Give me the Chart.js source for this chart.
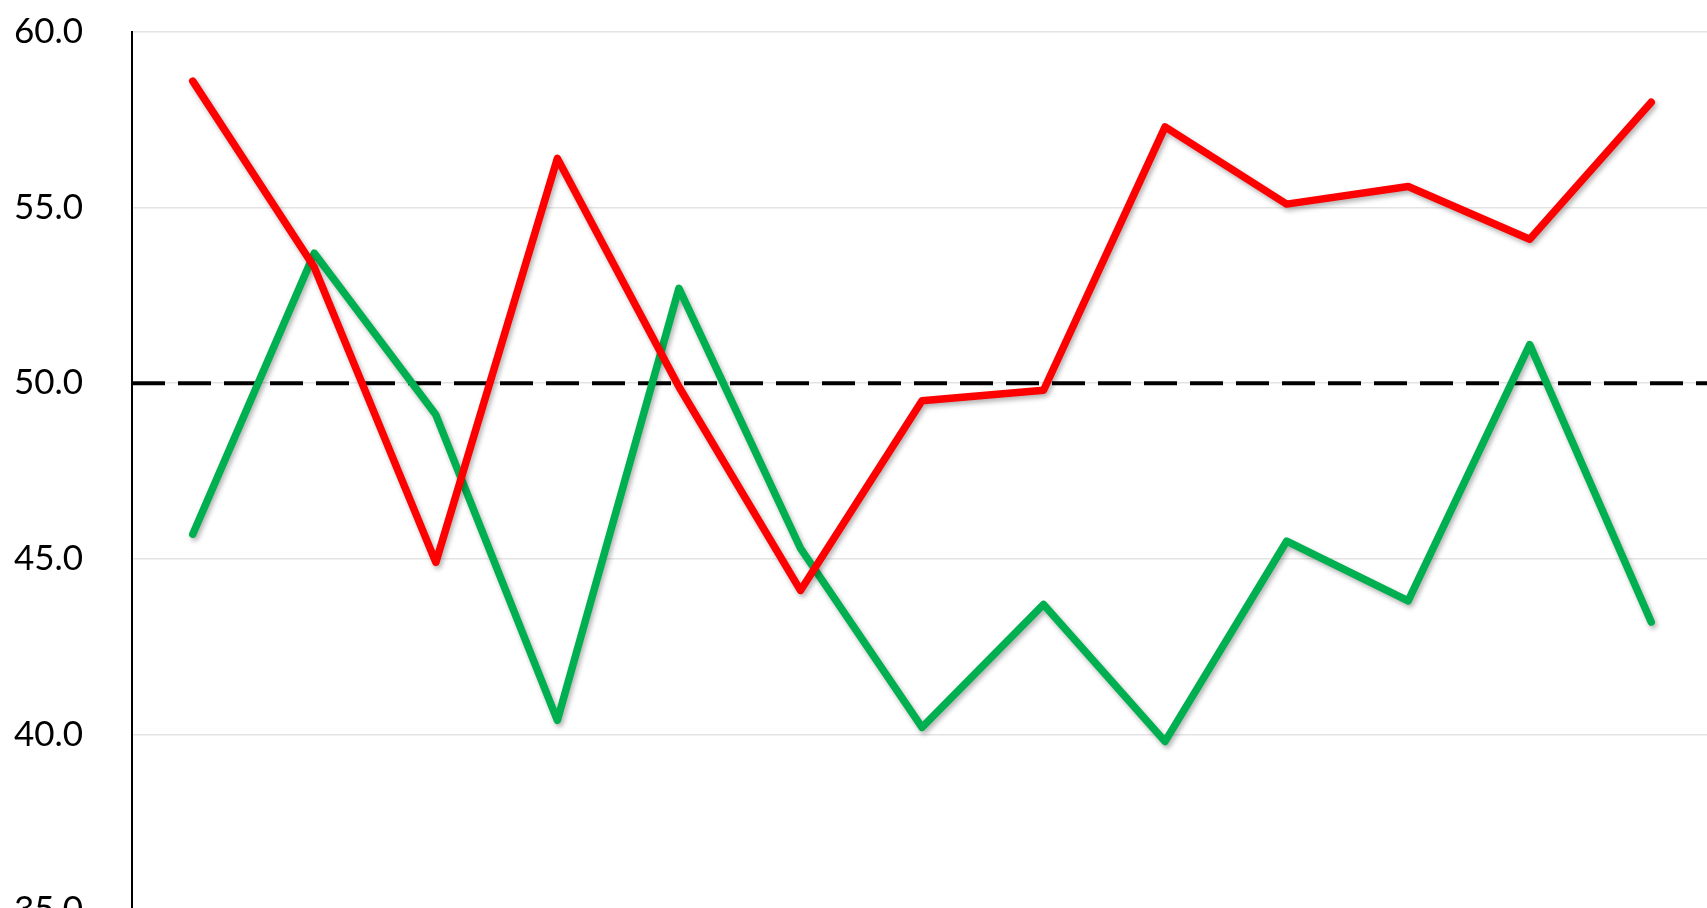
<!DOCTYPE html>
<html>
<head>
<meta charset="utf-8">
<script src="https://cdn.jsdelivr.net/npm/chart.js@4"></script>
<style>
  html, body { margin: 0; padding: 0; background: #fff; overflow: hidden; }
  #wrap { position: absolute; left: 0; top: 0; width: 1712px; height: 950px; }
</style>
</head>
<body>
<div id="wrap"><canvas id="lineChart"></canvas></div>
<script>
// ── Data ─────────────────────────────────────────────────────────────────────

const categories = ['1', '2', '3', '4', '5', '6', '7', '8', '9', '10', '11', '12', '13'];
const redSeries   = [58.6, 53.3, 44.9, 56.4, 49.9, 44.1, 49.5, 49.8, 57.3, 55.1, 55.6, 54.1, 58.0];
const greenSeries = [45.7, 53.7, 49.1, 40.4, 52.7, 45.3, 40.2, 43.7, 39.8, 45.5, 43.8, 51.1, 43.2];
const yTicks = [35, 40, 45, 50, 55, 60];
const thresholdValue = 50;

// ── Plugins ──────────────────────────────────────────────────────────────────

// dashed reference line, drawn under the series
const thresholdLine = {
  id: 'thresholdLine',
  beforeDatasetsDraw(chart) {
    const { ctx, chartArea, scales } = chart;
    const y = scales.y.getPixelForValue(thresholdValue);
    ctx.save();
    ctx.strokeStyle = '#000';
    ctx.lineWidth = 4;
    ctx.setLineDash([33, 13]);
    ctx.beginPath();
    ctx.moveTo(chartArea.left, y);
    ctx.lineTo(chartArea.right, y);
    ctx.stroke();
    ctx.restore();
  }
};

// soft drop shadow on the lines
const lineShadow = {
  id: 'lineShadow',
  beforeDatasetDraw(chart) {
    const ctx = chart.ctx;
    ctx.save();
    ctx.shadowColor = 'rgba(0,0,0,0.3)';
    ctx.shadowBlur = 5;
    ctx.shadowOffsetX = 2;
    ctx.shadowOffsetY = 3;
  },
  afterDatasetDraw(chart) {
    chart.ctx.restore();
  }
};

// ── Chart ────────────────────────────────────────────────────────────────────

const ctx = document.getElementById('lineChart').getContext('2d');

new Chart(ctx, {
  type: 'line',
  data: {
    labels: categories,
    datasets: [
      {
        data: redSeries,
        borderColor: '#ff0000',
        borderWidth: 7.5,
        borderCapStyle: 'round',
        borderJoinStyle: 'round',
        pointRadius: 0,
        tension: 0,
        order: 1
      },
      {
        data: greenSeries,
        borderColor: '#00b050',
        borderWidth: 7.5,
        borderCapStyle: 'round',
        borderJoinStyle: 'round',
        pointRadius: 0,
        tension: 0,
        order: 2
      }
    ]
  },
  options: {
    responsive: true,
    maintainAspectRatio: false,
    animation: false,
    layout: { padding: { top: 32, bottom: 40, left: 14, right: 0 } },
    plugins: {
      legend: { display: false },
      tooltip: { enabled: false }
    },
    scales: {
      x: {
        display: false,
        offset: true
      },
      y: {
        min: 35,
        max: 60,
        afterFit: s => { s.width = 118; },
        afterBuildTicks: s => { s.ticks = yTicks.map(v => ({ value: v })); },
        border: { display: true, color: '#000', width: 2 },
        grid: { color: '#e3e3e3', lineWidth: 1.5, drawTicks: false },
        ticks: {
          color: '#000',
          padding: 0,
          crossAlign: 'far',
          font: { family: 'Lato', size: 35 },
          callback: v => v.toFixed(1)
        }
      }
    }
  },
  plugins: [thresholdLine, lineShadow]
});
</script>
</body>
</html>
